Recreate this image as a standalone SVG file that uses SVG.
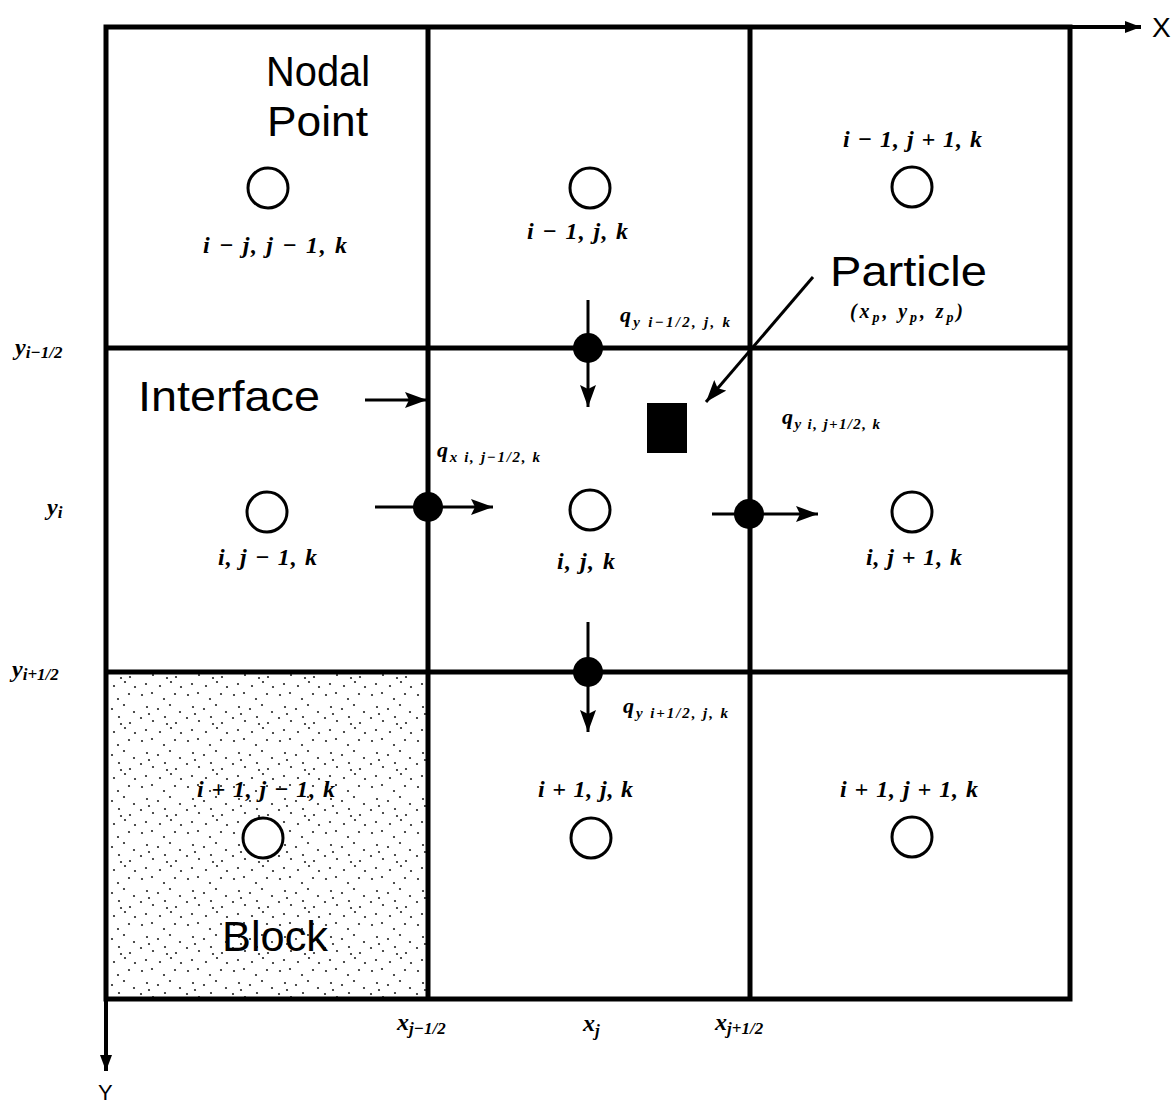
<svg xmlns="http://www.w3.org/2000/svg" width="1172" height="1103" viewBox="0 0 1172 1103">
<style>
.grid{fill:none;stroke:#000;stroke-width:5}
.node{fill:#fff;stroke:#000;stroke-width:3}
.flux{fill:#000}
.lbl{font-family:"Liberation Serif",serif;font-style:italic;font-weight:bold;font-size:24px;fill:#000}
.sm{font-family:"Liberation Serif",serif;font-style:italic;font-weight:bold;font-size:22px;fill:#000}
.sub{font-size:15px}
.sans{font-family:"Liberation Sans",Arial,sans-serif;font-size:42px;fill:#000}
.conn{stroke:#000;stroke-width:3;fill:none}
.ax{stroke:#000;stroke-width:4;fill:none}
</style>
<defs>
<marker id="ah" viewBox="0 0 22 16" refX="22" refY="8" markerWidth="22" markerHeight="16" markerUnits="userSpaceOnUse" orient="auto">
<path d="M0,0 L22,8 L0,16 L4,8 z" fill="#000"/>
</marker>
<marker id="axh" viewBox="0 0 16 12" refX="16" refY="6" markerWidth="16" markerHeight="12" markerUnits="userSpaceOnUse" orient="auto">
<path d="M0,0 L16,6 L0,12 z" fill="#000"/>
</marker>
<pattern id="stip" width="46" height="46" patternUnits="userSpaceOnUse">
<g fill="#222">
<circle cx="4" cy="5" r="1.1"/><circle cx="14" cy="3" r="1.1"/><circle cx="26" cy="9" r="1.1"/><circle cx="37" cy="4" r="1.1"/>
<circle cx="9" cy="17" r="1.1"/><circle cx="20" cy="19" r="1.1"/><circle cx="32" cy="15" r="1.1"/><circle cx="42" cy="22" r="1.1"/>
<circle cx="3" cy="28" r="1.1"/><circle cx="15" cy="31" r="1.1"/><circle cx="27" cy="27" r="1.1"/><circle cx="38" cy="33" r="1.1"/>
<circle cx="8" cy="40" r="1.1"/><circle cx="22" cy="42" r="1.1"/><circle cx="33" cy="38" r="1.1"/><circle cx="43" cy="43" r="1.1"/>
<circle cx="11" cy="24" r="1.1"/><circle cx="29" cy="34" r="1.1"/>
</g>
</pattern>
</defs>
<rect width="1172" height="1103" fill="#fff"/>

<g id="block">
<rect x="106" y="672" width="322" height="327" fill="url(#stip)"/>
<text class="sans" x="222" y="951" textLength="106" lengthAdjust="spacingAndGlyphs">Block</text>
</g>

<g id="grid">
<rect class="grid" x="106" y="27" width="964" height="972"/>
<line class="grid" x1="428" y1="27" x2="428" y2="999"/>
<line class="grid" x1="750" y1="27" x2="750" y2="999"/>
<line class="grid" x1="106" y1="348" x2="1070" y2="348"/>
<line class="grid" x1="106" y1="672" x2="1070" y2="672"/>
</g>

<g id="connectors">
<line class="ax" x1="1070" y1="27" x2="1141" y2="27" marker-end="url(#axh)"/>
<line class="ax" x1="106" y1="999" x2="106" y2="1071" marker-end="url(#axh)"/>
<line class="conn" x1="588" y1="300" x2="588" y2="407" marker-end="url(#ah)"/>
<line class="conn" x1="588" y1="622" x2="588" y2="732" marker-end="url(#ah)"/>
<line class="conn" x1="375" y1="507" x2="493" y2="507" marker-end="url(#ah)"/>
<line class="conn" x1="712" y1="514" x2="818" y2="514" marker-end="url(#ah)"/>
<line class="conn" x1="365" y1="400" x2="427" y2="400" marker-end="url(#ah)"/>
<line class="conn" x1="813" y1="277" x2="706" y2="402" marker-end="url(#ah)"/>
</g>

<g id="axis-labels">
<text class="sans" x="1152" y="37" style="font-size:28px">X</text>
<text class="sans" x="98" y="1100" style="font-size:22px">Y</text>
<text class="lbl" x="15" y="355">y<tspan class="sub" dy="3" style="font-size:17px">i−1/2</tspan></text>
<text class="lbl" x="47" y="515">y<tspan dy="3" style="font-size:17px">i</tspan></text>
<text class="lbl" x="12" y="677">y<tspan dy="3" style="font-size:17px">i+1/2</tspan></text>
<text class="lbl" x="397" y="1030">x<tspan dy="4" style="font-size:17px">j−1/2</tspan></text>
<text class="lbl" x="583" y="1031">x<tspan dy="5" style="font-size:17px">j</tspan></text>
<text class="lbl" x="715" y="1030">x<tspan dy="4" style="font-size:17px">j+1/2</tspan></text>
</g>

<g id="node-i-1-j-1-k">
<circle class="node" cx="268" cy="188" r="20"/>
<text class="lbl" x="203" y="253" textLength="144" lengthAdjust="spacing">i − j, j − 1, k</text>
</g>
<g id="nodal-point-label">
<text class="sans" x="266" y="86" textLength="104" lengthAdjust="spacingAndGlyphs">Nodal</text>
<text class="sans" x="267" y="136" textLength="101" lengthAdjust="spacingAndGlyphs">Point</text>
</g>
<g id="node-i-1-j-k">
<circle class="node" cx="590" cy="188" r="20"/>
<text class="lbl" x="527" y="239" textLength="101" lengthAdjust="spacing">i − 1, j, k</text>
</g>
<g id="node-i-1-j+1-k">
<circle class="node" cx="912" cy="187" r="20"/>
<text class="lbl" x="843" y="147" textLength="139" lengthAdjust="spacing">i − 1, j + 1, k</text>
</g>
<g id="node-i-j-1-k">
<circle class="node" cx="267" cy="512" r="20"/>
<text class="lbl" x="218" y="565" textLength="99" lengthAdjust="spacing">i, j − 1, k</text>
</g>
<g id="node-i-j-k">
<circle class="node" cx="590" cy="510" r="20"/>
<text class="lbl" x="557" y="569" textLength="58" lengthAdjust="spacing">i, j, k</text>
</g>
<g id="node-i-j+1-k">
<circle class="node" cx="912" cy="512" r="20"/>
<text class="lbl" x="866" y="565" textLength="96" lengthAdjust="spacing">i, j + 1, k</text>
</g>
<g id="node-i+1-j-1-k">
<circle class="node" cx="263" cy="838" r="20"/>
<text class="lbl" x="197" y="797" textLength="138" lengthAdjust="spacing">i + 1, j − 1, k</text>
</g>
<g id="node-i+1-j-k">
<circle class="node" cx="591" cy="838" r="20"/>
<text class="lbl" x="538" y="797" textLength="95" lengthAdjust="spacing">i + 1, j, k</text>
</g>
<g id="node-i+1-j+1-k">
<circle class="node" cx="912" cy="837" r="20"/>
<text class="lbl" x="840" y="797" textLength="138" lengthAdjust="spacing">i + 1, j + 1, k</text>
</g>

<g id="interface-label">
<text class="sans" x="138" y="411" textLength="182" lengthAdjust="spacingAndGlyphs">Interface</text>
</g>

<g id="particle">
<rect x="647" y="403" width="40" height="50" fill="#000"/>
<text class="sans" x="830" y="286" textLength="157" lengthAdjust="spacingAndGlyphs">Particle</text>
<text class="sm" x="850" y="318" textLength="113" lengthAdjust="spacing" style="font-size:20px">(x<tspan dy="4" style="font-size:14px">p</tspan><tspan dy="-4">, y</tspan><tspan dy="4" style="font-size:14px">p</tspan><tspan dy="-4">, z</tspan><tspan dy="4" style="font-size:14px">p</tspan><tspan dy="-4">)</tspan></text>
</g>

<g id="flux-top">
<circle class="flux" cx="588" cy="348" r="15"/>
<text class="sm" x="620" y="322" textLength="110" lengthAdjust="spacing">q<tspan class="sub" dy="5">y i−1/2, j, k</tspan></text>
</g>
<g id="flux-left">
<circle class="flux" cx="428" cy="507" r="15"/>
<text class="sm" x="437" y="457" textLength="103" lengthAdjust="spacing">q<tspan class="sub" dy="5">x i, j−1/2, k</tspan></text>
</g>
<g id="flux-right">
<circle class="flux" cx="749" cy="514" r="15"/>
<text class="sm" x="782" y="424" textLength="98" lengthAdjust="spacing">q<tspan class="sub" dy="5">y i, j+1/2, k</tspan></text>
</g>
<g id="flux-bottom">
<circle class="flux" cx="588" cy="672" r="15"/>
<text class="sm" x="623" y="713" textLength="105" lengthAdjust="spacing">q<tspan class="sub" dy="5">y i+1/2, j, k</tspan></text>
</g>
</svg>
